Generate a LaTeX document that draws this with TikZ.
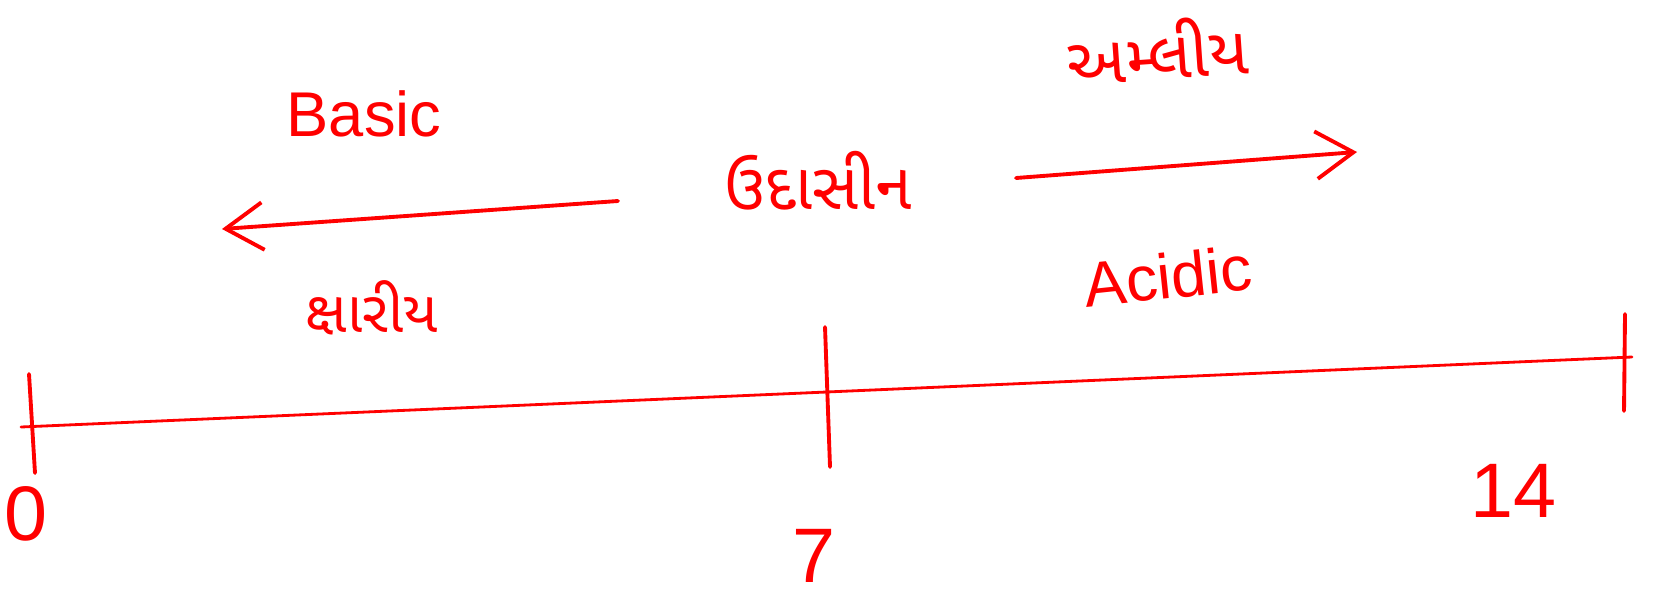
\documentclass[tikz,border=0pt]{standalone}
\usepackage{fontspec}
\setmainfont{Liberation Sans}
\newfontfamily\gujfont[Script=Gujarati]{Noto Sans Gujarati UI}
\usetikzlibrary{arrows.meta}
\begin{document}
\begin{tikzpicture}[x=0.02cm,y=-0.02cm,
  ink/.style={draw=red, line width=2.2pt, line cap=round, line join=round},
  axisline/.style={draw=red, line width=1.6pt, line cap=round},
  tickline/.style={draw=red, line width=2.2pt, line cap=round},
  arrowline/.style={ink, -{Straight Barb[length=0.75cm,width=0.95cm,line width=2.2pt]}},
  lbl/.style={text=red, inner sep=0pt, font=\fontsize{36}{40}\selectfont},
  guj/.style={text=red, inner sep=0pt},
  num/.style={text=red, inner sep=0pt, font=\fontsize{44}{50}\selectfont}]
\useasboundingbox (0,0) rectangle (1665,605);
% axis
\coordinate (ax0) at (21,427);
\coordinate (ax1) at (1632,357);
\draw[axisline] (ax0) -- (ax1);
% ticks
\coordinate (t0a) at (29,374);
\coordinate (t0b) at (35,473);
\coordinate (t7a) at (825,327);
\coordinate (t7b) at (830,467);
\coordinate (t14a) at (1625,314);
\coordinate (t14b) at (1624,411);
\draw[tickline] (t0a) -- (t0b);
\draw[tickline] (t7a) -- (t7b);
\draw[tickline] (t14a) -- (t14b);
% numbers
\node[num] (n0) at (26,514) {0};
\node[num] (n7) at (814,556) {7};
\node[num] (n14) at (1513,491) {14};
% arrows
\coordinate (lA) at (618,201);
\coordinate (lB) at (222,229);
\draw[arrowline] (lA) -- (lB);
\coordinate (rA) at (1016,178);
\coordinate (rB) at (1357,152);
\draw[arrowline] (rA) -- (rB);
% labels
\node[lbl] (basic) at (364,114) {Basic};
\node[lbl, rotate=6] (acidic) at (1168,276) {Acidic};
\node[guj, font=\gujfont\fontsize{37}{42}\selectfont] (neutral) at (818,181) {ઉદાસીન};
\node[guj, font=\gujfont\fontsize{38}{42}\selectfont, rotate=4] (acidguj) at (1157,50) {અમ્લીય};
\node[guj, font=\gujfont\fontsize{33}{38}\selectfont] (baseguj) at (372,308) {ક્ષારીય};
\end{tikzpicture}
\end{document}
